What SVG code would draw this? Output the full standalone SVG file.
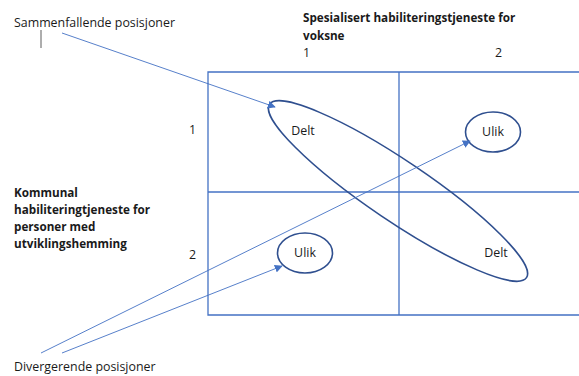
<svg xmlns="http://www.w3.org/2000/svg" width="579" height="376" viewBox="0 0 579 376">
  <style>
    text { font-family: "Open Sans", "Liberation Sans", sans-serif; fill: #1a1a1a; }
    .lbl { font-size: 12.4px; }
    .hdr { font-size: 11.7px; font-weight: bold; }
    .grid { stroke: #4472C4; stroke-width: 1.3; fill: none; }
    .shape { stroke: #2F4F8F; stroke-width: 1.6; fill: none; }
    .conn { stroke: #4472C4; stroke-width: 0.9; fill: none; }
  </style>
  <defs>
    <marker id="arrow" viewBox="0 0 10 10" refX="9" refY="5" markerWidth="8" markerHeight="8" markerUnits="userSpaceOnUse" orient="auto">
      <path d="M0,0 L10,5 L0,10 z" fill="#4472C4"/>
    </marker>
  </defs>

  <!-- axis titles and row/column numbers -->
  <g id="header">
    <text class="hdr" x="303" y="22">Spesialisert habiliteringstjeneste for</text>
    <text class="hdr" x="303" y="40">voksne</text>
    <text class="lbl" x="303" y="57">1</text>
    <text class="lbl" x="495" y="57">2</text>
  </g>
  <g id="side">
    <text class="hdr" x="14" y="197">Kommunal</text>
    <text class="hdr" x="14" y="214">habiliteringtjeneste for</text>
    <text class="hdr" x="14" y="231">personer med</text>
    <text class="hdr" x="14" y="248">utviklingshemming</text>
    <text class="lbl" x="189" y="134">1</text>
    <text class="lbl" x="189" y="259">2</text>
  </g>

  <!-- 2x2 grid -->
  <g id="grid">
    <path class="grid" d="M579,72 H208 V315 H579"/>
    <line class="grid" x1="399" y1="72" x2="399" y2="315"/>
    <line class="grid" x1="208" y1="192" x2="579" y2="192"/>
  </g>

  <g id="delt">
    <ellipse class="shape" cx="398" cy="191" rx="155" ry="30" transform="rotate(34 398 191)"/>
    <text class="lbl" x="303" y="135" text-anchor="middle">Delt</text>
    <text class="lbl" x="496" y="257" text-anchor="middle">Delt</text>
  </g>
  <g id="ulik-12">
    <ellipse class="shape" cx="493" cy="132" rx="27.5" ry="20"/>
    <text class="lbl" x="493" y="136" text-anchor="middle">Ulik</text>
  </g>
  <g id="ulik-21">
    <ellipse class="shape" cx="305" cy="253" rx="27.5" ry="20"/>
    <text class="lbl" x="305" y="257" text-anchor="middle">Ulik</text>
  </g>

  <g id="sammenfallende">
    <text class="lbl" x="14" y="27">Sammenfallende posisjoner</text>
    <line x1="41" y1="30" x2="41" y2="48" stroke="#333" stroke-width="0.8"/>
  </g>
  <g id="divergerende">
    <text class="lbl" x="14" y="371">Divergerende posisjoner</text>
  </g>

  <!-- connectors -->
  <g id="connectors">
    <line class="conn" x1="62" y1="33" x2="275" y2="107" marker-end="url(#arrow)"/>
    <line class="conn" x1="41" y1="353" x2="470" y2="141" marker-end="url(#arrow)"/>
    <line class="conn" x1="62" y1="353" x2="282" y2="266" marker-end="url(#arrow)"/>
  </g>
</svg>
